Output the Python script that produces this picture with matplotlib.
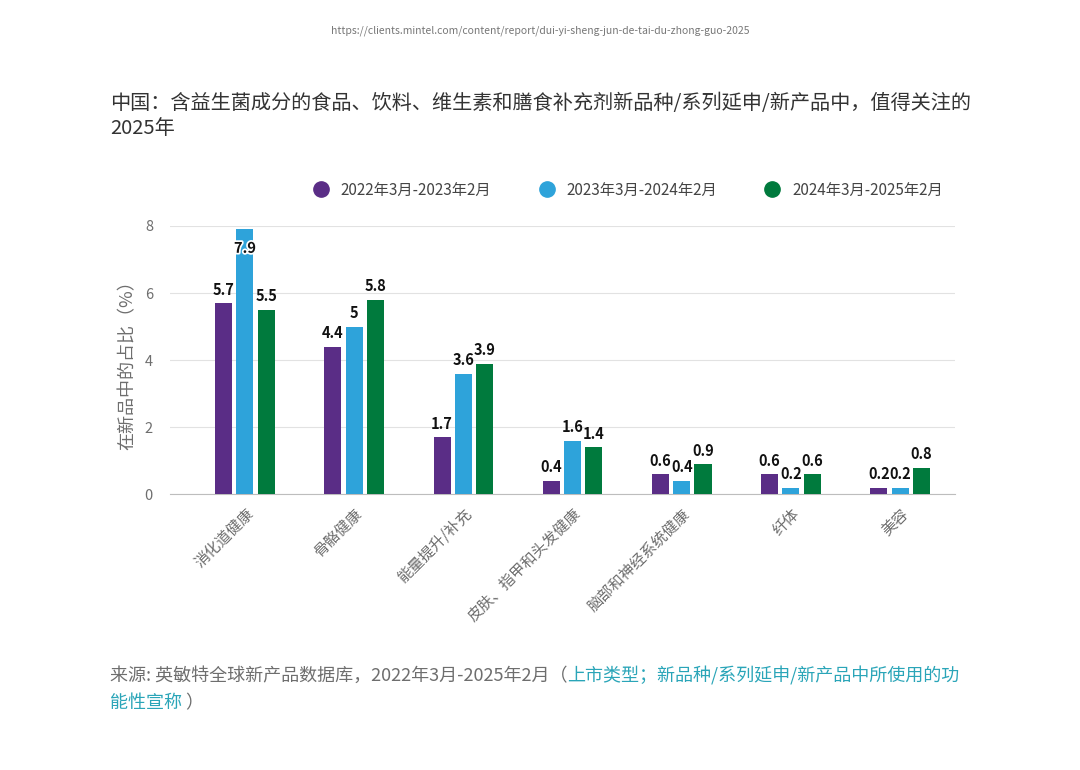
import matplotlib.pyplot as plt
import matplotlib.patheffects as pe
from matplotlib.lines import Line2D
import numpy as np

plt.rcParams['font.family'] = ['Noto Sans CJK SC', 'DejaVu Sans']

categories = ['消化道健康', '骨骼健康', '能量提升/补充', '皮肤、指甲和头发健康',
              '脑部和神经系统健康', '纤体', '美容']
series_names = ['2022年3月-2023年2月', '2023年3月-2024年2月', '2024年3月-2025年2月']
s2022 = [5.7, 4.4, 1.7, 0.4, 0.6, 0.6, 0.2]
s2023 = [7.9, 5, 3.6, 1.6, 0.4, 0.2, 0.2]
s2024 = [5.5, 5.8, 3.9, 1.4, 0.9, 0.6, 0.8]
yticks = [0, 2, 4, 6, 8]

colors = ['#5a2d86', '#2ea3da', '#007a3d']
gray = '#6e6e6e'

fig = plt.figure(figsize=[10.8, 7.7], dpi=100)
ax = fig.add_axes([0.157, 0.358, 0.727, 0.3485])

x = np.arange(len(categories))
w = 0.156
step = 0.195
for i, vals in enumerate([s2022, s2023, s2024]):
    xs = x + (i - 1) * step
    ax.bar(xs, vals, width=w, color=colors[i], zorder=3)
    for xi, v in zip(xs, vals):
        lab = ('%g' % v)
        if v + 0.6 > 8:
            # no room above the top bar, label goes inside
            ax.text(xi, v - 0.55, lab, ha='center', va='center', fontsize=10.5,
                    fontweight='bold', color='#111111', zorder=4,
                    path_effects=[pe.withStroke(linewidth=2.5, foreground='white')])
        else:
            ax.annotate(lab, (xi, v), xytext=(0, 4), textcoords='offset points',
                        ha='center', va='bottom', fontsize=10.5, fontweight='bold',
                        color='#111111', zorder=4)

ax.set_ylim(0, 8)
ax.set_xlim(-0.69, 6.5)
ax.set_yticks(yticks)
ax.yaxis.grid(True, color='#e2e2e2', linewidth=0.8, zorder=0)
for s in ['top', 'right', 'left']:
    ax.spines[s].set_visible(False)
ax.spines['bottom'].set_color('#bdbdbd')
ax.tick_params(axis='y', length=0, labelsize=10.5, labelcolor=gray, pad=12)
ax.tick_params(axis='x', length=0, pad=8)
ax.set_xticks(x)
ax.set_xticklabels(categories, rotation=45, ha='right', rotation_mode='anchor',
                   fontsize=11, color=gray)
ax.set_ylabel('在新品中的占比（%）', fontsize=13, color=gray, labelpad=6)

handles = [Line2D([], [], marker='o', linestyle='none', markersize=11,
                  markerfacecolor=c, markeredgecolor=c) for c in colors]
fig.legend(handles, series_names, loc='center', bbox_to_anchor=(0.578, 0.753),
           ncol=3, frameon=False, fontsize=11, labelcolor='#444444',
           handletextpad=0.3, columnspacing=2.6)

fig.text(0.5, 0.96, 'https://clients.mintel.com/content/report/dui-yi-sheng-jun-de-tai-du-zhong-guo-2025',
         ha='center', va='center', fontsize=7.5, color='#777777')

fig.text(110 / 1080, 1 - 104 / 770,
         '中国：含益生菌成分的食品、饮料、维生素和膳食补充剂新品种/系列延申/新产品中，值得关注的',
         ha='left', va='center', fontsize=14.5, color='#333333')
fig.text(110 / 1080, 1 - 129 / 770, '2025年', ha='left', va='center',
         fontsize=14.5, color='#333333')

# source line made of grey and teal pieces
teal = '#2aa5b8'
renderer = fig.canvas.get_renderer()
pieces = [('来源: 英敏特全球新产品数据库，2022年3月-2025年2月（', gray),
          ('上市类型；新品种/系列延申/新产品中所使用的功', teal)]
xpos = 110
for txt, c in pieces:
    tt = fig.text(xpos / 1080, 1 - 676 / 770, txt, ha='left', va='center',
                  fontsize=13, color=c)
    xpos = tt.get_window_extent(renderer).x1
tt = fig.text(110 / 1080, 1 - 703 / 770, '能性宣称', ha='left', va='center',
              fontsize=13, color=teal)
x2 = tt.get_window_extent(renderer).x1
fig.text(x2 / 1080, 1 - 703 / 770, ' ）', ha='left', va='center',
         fontsize=13, color=gray)

fig.savefig('out.png', dpi=100, facecolor='white')
